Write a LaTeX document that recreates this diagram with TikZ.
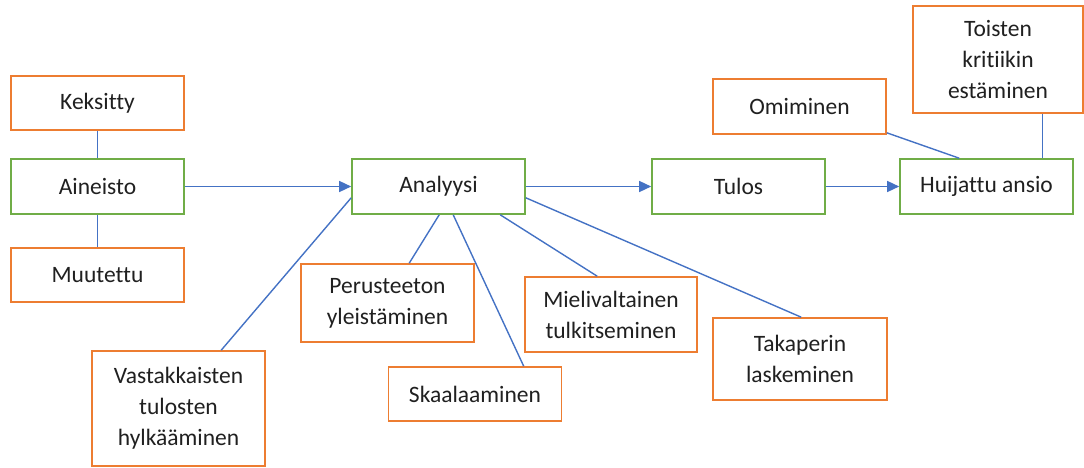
\documentclass[tikz,border=0pt]{standalone}
\usepackage{fontspec}
\setmainfont[Ligatures=NoCommon]{Carlito}
\usetikzlibrary{arrows.meta}
\definecolor{boxorange}{HTML}{ED7D31}
\definecolor{boxgreen}{HTML}{70AD47}
\definecolor{lineblue}{HTML}{4472C4}
\definecolor{txt}{HTML}{202020}
\begin{document}
\begin{tikzpicture}[x=1pt,y=-1pt,
  basebox/.style={draw,line width=1.6pt,fill=white,inner sep=0pt,align=center,
    text=txt,font=\fontsize{23.5}{31}\selectfont},
  obox/.style={basebox,draw=boxorange},
  gbox/.style={basebox,draw=boxgreen},
  conn/.style={draw=lineblue,line width=1.4pt},
  arr/.style={conn,-{Triangle[length=12pt,width=11pt]}}]
\useasboundingbox (0,0) rectangle (1084,468);
% main flow
\node[gbox,minimum width=173pt,minimum height=55pt] (aineisto) at (97.5,186.5) {Aineisto};
\node[gbox,minimum width=173pt,minimum height=55pt] (analyysi) at (438.5,186.5) {Analyysi};
\node[gbox,minimum width=173pt,minimum height=55pt] (tulos) at (738.5,186.5) {Tulos};
\node[gbox,minimum width=173pt,minimum height=55pt] (huij) at (986.5,186.5) {Huijattu ansio};
% orange boxes
\node[obox,minimum width=173pt,minimum height=54pt] (keksitty) at (97.5,103) {Keksitty};
\node[obox,minimum width=173pt,minimum height=54pt] (muutettu) at (97.5,275) {Muutettu};
\node[obox,minimum width=173pt,minimum height=55pt] (omim) at (799.5,106.5) {Omiminen};
\node[obox,minimum width=170pt,minimum height=107pt] (toisten) at (998,59.5) {Toisten\\kritiikin\\estäminen};
\node[obox,minimum width=173pt,minimum height=78pt] (perus) at (387.5,303) {Perusteeton\\yleistäminen};
\node[obox,minimum width=173pt,minimum height=54pt] (skaal) at (475,394) {Skaalaaminen};
\node[obox,minimum width=172pt,minimum height=75pt] (mieli) at (611,314.5) {Mielivaltainen\\tulkitseminen};
\node[obox,minimum width=174pt,minimum height=82pt] (taka) at (800,359) {Takaperin\\laskeminen};
\node[obox,minimum width=173pt,minimum height=115pt] (vasta) at (178.5,408.5) {Vastakkaisten\\tulosten\\hylkääminen};
% connectors
\draw[conn] (keksitty.south) -- (aineisto.north);
\draw[conn] (aineisto.south) -- (muutettu.north);
\draw[arr] (aineisto.east) -- (analyysi.west);
\draw[arr] (analyysi.east) -- (tulos.west);
\draw[arr] (tulos.east) -- (huij.west);
\draw[conn] ([xshift=130pt]vasta.north west) -- ([yshift=17pt]analyysi.south west);
\draw[conn] ([xshift=109pt]perus.north west) -- ([xshift=88pt]analyysi.south west);
\draw[conn] ([xshift=136pt]skaal.north west) -- ([xshift=102pt]analyysi.south west);
\draw[conn] ([xshift=73pt]mieli.north west) -- ([xshift=149pt]analyysi.south west);
\draw[conn] ([xshift=89pt]taka.north west) -- ([yshift=17pt]analyysi.south east);
\draw[conn] ([yshift=2pt]omim.south east) -- ([xshift=60pt]huij.north west);
\draw[conn] ([xshift=130pt]toisten.south west) -- ([xshift=143pt]huij.north west);
\end{tikzpicture}
\end{document}
